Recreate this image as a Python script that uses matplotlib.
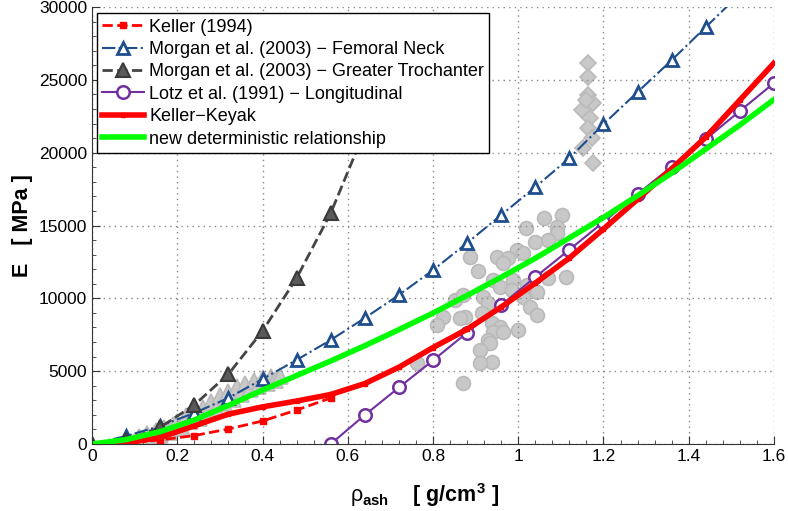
import matplotlib

matplotlib.use('Agg')
import matplotlib.pyplot as plt
from matplotlib.ticker import MultipleLocator

# density grid used by the model curves (g/cm^3)
rho = [0, 0.08, 0.16, 0.24, 0.32, 0.40, 0.48, 0.56, 0.64, 0.72, 0.80,
       0.88, 0.96, 1.04, 1.12, 1.20, 1.28, 1.36, 1.44, 1.52, 1.60]

keller_x = [0, 0.08, 0.16, 0.24, 0.32, 0.40, 0.48, 0.56]
keller_y = [0, 70, 280, 580, 1030, 1580, 2330, 3160]

morgan_fn_x = rho[:20]
morgan_fn_y = [0, 550, 1240, 2130, 3160, 4460, 5770, 7140, 8650, 10230, 11940,
               13800, 15720, 17640, 19630, 21960, 24160, 26350, 28620, 30900]

morgan_gt_x = [0, 0.08, 0.16, 0.24, 0.32, 0.40, 0.48, 0.56, 0.64]
morgan_gt_y = [0, 270, 1150, 2680, 4800, 7760, 11390, 15850, 21500]

lotz_x = rho[7:]
lotz_y = [0, 1990, 3880, 5740, 7650, 9540, 11460, 13340, 15240, 17160,
          19040, 20930, 22860, 24780]

keyak_y = [0, 80, 450, 1250, 2050, 2550, 2950, 3400, 4150, 5270, 6620, 7880,
           9400, 11050, 12770, 14760, 16800, 18900, 21070, 23610, 26150]

new_y = [0, 300, 850, 1650, 2650, 3700, 4700, 5700, 6750, 7850, 8990, 10200,
         11450, 12750, 14150, 15550, 17050, 18600, 20250, 21900, 23650]

# experimental data (grey)
tri_x = [0.10, 0.11, 0.12, 0.13, 0.14, 0.15, 0.16, 0.17, 0.18, 0.19, 0.20, 0.21,
         0.22, 0.23, 0.24, 0.25, 0.26, 0.27, 0.28, 0.29, 0.30, 0.31, 0.32, 0.33,
         0.34, 0.35, 0.36, 0.37, 0.38, 0.39, 0.40, 0.41, 0.42, 0.43, 0.44]
tri_y = [200, 500, 100, 700, 300, 900, 600, 1100, 800, 1300, 1500, 1100,
         1900, 1600, 2200, 1800, 2500, 2100, 2900, 2500, 3300, 2800, 3600, 3100,
         3900, 3400, 4100, 3800, 4300, 4000, 4500, 4200, 4600, 4400, 4700]

dia_x = [1.164, 1.164, 1.164, 1.176, 1.150, 1.158, 1.168, 1.164, 1.173, 1.152, 1.176]
dia_y = [26150, 25190, 23950, 23400, 22920, 23600, 22370, 21690, 21000, 20320, 19290]

circ_x = [1.06, 1.103, 1.09, 1.09, 1.07, 1.04, 1.019, 0.997, 1.01, 0.95, 0.976,
          0.965, 0.887, 0.906, 0.94, 0.988, 0.957, 0.985, 1.02, 1.044, 1.07,
          1.112, 1.01, 1.028, 1.044, 0.918, 0.93, 0.915, 0.852, 0.871, 0.875,
          0.864, 0.824, 0.81, 0.938, 0.957, 0.94, 0.965, 1.0, 0.93, 0.934,
          0.91, 0.938, 0.91, 0.871, 0.763]
circ_y = [15510, 15720, 14890, 14480, 14000, 13860, 14820, 13310, 13110, 12830,
          12760, 12420, 12830, 11870, 11250, 11250, 10780, 10570, 10910, 10430,
          11390, 11460, 10090, 9400, 8850, 10090, 9680, 8990, 9880, 10230, 8720,
          8650, 8720, 8170, 8300, 8030, 7690, 7690, 7820, 7140, 6930, 6450, 5630,
          5560, 4190, 5560]


def main():
    plt.rcParams['font.family'] = ['Liberation Sans', 'DejaVu Sans']
    plt.rcParams['mathtext.fontset'] = 'custom'
    plt.rcParams['mathtext.rm'] = 'Liberation Sans'
    plt.rcParams['mathtext.it'] = 'Liberation Sans'
    plt.rcParams['mathtext.bf'] = 'Liberation Sans:bold'

    fig = plt.figure(figsize=(7.88, 5.11), dpi=100)
    ax = fig.add_axes([0.1168, 0.1311, 0.8654, 0.8552])

    grey = dict(linestyle='none', markerfacecolor='#c8c8c8',
                markeredgecolor='#bababa', markeredgewidth=1.2, zorder=1.5)
    ax.plot(tri_x, tri_y, marker='^', markersize=12, **grey)
    ax.plot(dia_x, dia_y, marker='D', markersize=8.5, **grey)
    ax.plot(circ_x, circ_y, marker='o', markersize=10, **grey)

    ax.plot(keller_x, keller_y, color='red', linestyle='--', linewidth=2,
            marker='s', markersize=5, label='Keller (1994)')
    ax.plot(morgan_fn_x, morgan_fn_y, color='#1f4e8c', linestyle='-.', linewidth=1.5,
            marker='^', markersize=9, markerfacecolor='white', markeredgewidth=2,
            label='Morgan et al. (2003) \u2212 Femoral Neck')
    ax.plot(morgan_gt_x, morgan_gt_y, color='#444444', linestyle='--', linewidth=2,
            marker='^', markersize=10, markerfacecolor='#5a5a5a',
            markeredgecolor='#3a3a3a', markeredgewidth=1.5,
            label='Morgan et al. (2003) \u2212 Greater Trochanter')
    ax.plot(lotz_x, lotz_y, color='#7030a0', linestyle='-', linewidth=1.5,
            marker='o', markersize=9, markerfacecolor='white', markeredgewidth=1.8,
            label='Lotz et al. (1991) \u2212 Longitudinal')
    ax.plot(rho, keyak_y, color='red', linestyle='-', linewidth=4,
            marker='s', markersize=3, label='Keller\u2212Keyak')
    ax.plot(rho, new_y, color='#00ff00', linestyle='-', linewidth=4,
            label='new deterministic relationship')

    ax.set_xlim(0, 1.6)
    ax.set_ylim(0, 30000)
    ax.xaxis.set_minor_locator(MultipleLocator(0.04))
    ax.yaxis.set_major_locator(MultipleLocator(5000))
    ax.yaxis.set_minor_locator(MultipleLocator(1000))
    ax.set_xticks([0, 0.2, 0.4, 0.6, 0.8, 1.0, 1.2, 1.4, 1.6])
    ax.set_xticklabels(['0', '0.2', '0.4', '0.6', '0.8', '1', '1.2', '1.4', '1.6'])

    ax.tick_params(which='both', direction='in', colors='#333333', labelcolor='black',
                   labelsize=12.5)
    ax.tick_params(which='major', length=6)
    ax.tick_params(which='minor', length=3)
    ax.spines['top'].set_visible(False)
    ax.spines['right'].set_visible(False)
    ax.spines['left'].set_color('#333333')
    ax.spines['bottom'].set_color('#333333')
    ax.grid(True, which='major', color='#888888', linestyle=(0, (1, 3)), linewidth=1)

    ax.set_xlabel(r'$\rho_{\mathbf{ash}}$    [ g/cm$^{\mathbf{3}}$ ]',
                  fontsize=15.5, fontweight='bold', labelpad=5)
    ax.xaxis.set_label_coords(0.487, -0.085)
    ax.set_ylabel('E   [ MPa ]', fontsize=15.5, fontweight='bold', labelpad=4)

    leg = ax.legend(loc='upper left', bbox_to_anchor=(0.007, 0.986), fontsize=13,
                    fancybox=False, framealpha=1, edgecolor='black',
                    handlelength=2.3, borderaxespad=0, borderpad=0.3,
                    labelspacing=0.3, handletextpad=0.3)
    leg.get_frame().set_linewidth(1)
    leg.set_zorder(5)

    fig.savefig('out.png', dpi=100)


if __name__ == '__main__':
    main()
